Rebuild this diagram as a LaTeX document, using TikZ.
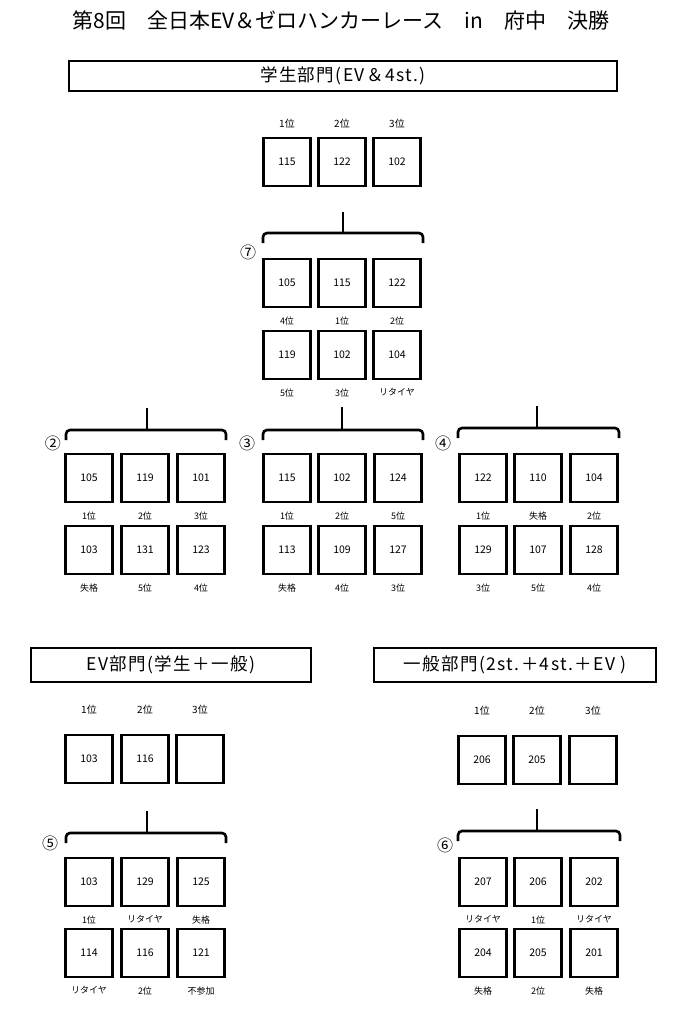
\documentclass[tikz,border=0pt]{standalone}
\usepackage{fontspec}
\setmainfont{Noto Sans CJK JP}
\usetikzlibrary{positioning,calc}

\tikzset{
  car/.style={draw, line width=2.6pt, minimum width=47pt, minimum height=48pt,
    inner sep=0pt, font=\fontsize{10.5}{10.5}\selectfont},
  rank/.style={font=\fontsize{9}{9}\selectfont, inner sep=0pt, yshift=-8pt},
  place/.style={font=\fontsize{10}{10}\selectfont, inner sep=0pt},
  head/.style={draw, line width=2.4pt, inner sep=0pt,
    font=\fontsize{17.5}{17.5}\selectfont\addfontfeatures{LetterSpace=8}},
  bracket/.style={line width=2.6pt, rounded corners=4pt},
  heat/.style={font=\fontsize{16}{16}\selectfont, inner sep=0pt},
}

\begin{document}
\begin{tikzpicture}[x=1pt, y=-1pt]

	\useasboundingbox[fill=white] (0,0) rectangle (682,1021);

	\node[font=\fontsize{21}{21}\selectfont] (title) at (341,20)
	{第8回　全日本EV＆ゼロハンカーレース　in　府中　決勝};

	% student class
	\node[head, minimum width=548pt, minimum height=30pt] (student) at (343,76) {学生部門(EV＆4st.)};

	\node[car] (t1) at (287,162) {115};
	\node[car] (t2) at (342,162) {122};
	\node[car] (t3) at (397,162) {102};
	\node[place, above=8pt of t1] (t1p) {1位};
	\node[place, above=8pt of t2] (t2p) {2位};
	\node[place, above=8pt of t3] (t3p) {3位};

	% heat 7
	\coordinate (s7) at (343,212);
	\coordinate (m7) at (343,233);
	\coordinate (l7) at (263,233);
	\coordinate (r7) at (423,233);
	\draw[line width=2.6pt] (s7) -- (m7);
	\draw[bracket] ($(l7)+(0,10)$) -- (l7) -- (r7) -- ++(0,10);
	\node[heat] (h7) at (248,252) {⑦};

	\node[car, label={[rank]below:4位}] (g7a) at (287,283) {105};
	\node[car, label={[rank]below:1位}] (g7b) at (342,283) {115};
	\node[car, label={[rank]below:2位}] (g7c) at (397,283) {122};
	\node[car, label={[rank]below:5位}] (g7d) at (287,355) {119};
	\node[car, label={[rank]below:3位}] (g7e) at (342,355) {102};
	\node[car, label={[rank]below:リタイヤ}] (g7f) at (397,355) {104};

	% heat 2
	\coordinate (s2) at (147,408);
	\coordinate (m2) at (147,430);
	\coordinate (l2) at (66,430);
	\coordinate (r2) at (226,430);
	\draw[line width=2.6pt] (s2) -- (m2);
	\draw[bracket] ($(l2)+(0,10)$) -- (l2) -- (r2) -- ++(0,10);
	\node[heat] (h2) at (53,443) {②};

	\node[car, label={[rank]below:1位}] (g2a) at (89,478) {105};
	\node[car, label={[rank]below:2位}] (g2b) at (145,478) {119};
	\node[car, label={[rank]below:3位}] (g2c) at (201,478) {101};
	\node[car, label={[rank]below:失格}] (g2d) at (89,550) {103};
	\node[car, label={[rank]below:5位}] (g2e) at (145,550) {131};
	\node[car, label={[rank]below:4位}] (g2f) at (201,550) {123};

	% heat 3
	\coordinate (s3) at (342,407);
	\coordinate (m3) at (342,430);
	\coordinate (l3) at (263,430);
	\coordinate (r3) at (423,430);
	\draw[line width=2.6pt] (s3) -- (m3);
	\draw[bracket] ($(l3)+(0,10)$) -- (l3) -- (r3) -- ++(0,10);
	\node[heat] (h3) at (247,443) {③};

	\node[car, label={[rank]below:1位}] (g3a) at (287,478) {115};
	\node[car, label={[rank]below:2位}] (g3b) at (342,478) {102};
	\node[car, label={[rank]below:5位}] (g3c) at (398,478) {124};
	\node[car, label={[rank]below:失格}] (g3d) at (287,550) {113};
	\node[car, label={[rank]below:4位}] (g3e) at (342,550) {109};
	\node[car, label={[rank]below:3位}] (g3f) at (398,550) {127};

	% heat 4
	\coordinate (s4) at (537,406);
	\coordinate (m4) at (537,428);
	\coordinate (l4) at (458,428);
	\coordinate (r4) at (619,428);
	\draw[line width=2.6pt] (s4) -- (m4);
	\draw[bracket] ($(l4)+(0,10)$) -- (l4) -- (r4) -- ++(0,10);
	\node[heat] (h4) at (443,443) {④};

	\node[car, label={[rank]below:1位}] (g4a) at (483,478) {122};
	\node[car, label={[rank]below:失格}] (g4b) at (538,478) {110};
	\node[car, label={[rank]below:2位}] (g4c) at (594,478) {104};
	\node[car, label={[rank]below:3位}] (g4d) at (483,550) {129};
	\node[car, label={[rank]below:5位}] (g4e) at (538,550) {107};
	\node[car, label={[rank]below:4位}] (g4f) at (594,550) {128};

	% EV class
	\node[head, minimum width=280pt, minimum height=34pt] (ev) at (171,665) {EV部門(学生＋一般)};

	\node[car] (e1) at (89,759) {103};
	\node[car] (e2) at (145,759) {116};
	\node[car] (e3) at (200,759) {};
	\node[place, above=19pt of e1] (e1p) {1位};
	\node[place, above=19pt of e2] (e2p) {2位};
	\node[place, above=19pt of e3] (e3p) {3位};

	% heat 5
	\coordinate (s5) at (147,811);
	\coordinate (m5) at (147,833);
	\coordinate (l5) at (66,833);
	\coordinate (r5) at (226,833);
	\draw[line width=2.6pt] (s5) -- (m5);
	\draw[bracket] ($(l5)+(0,10)$) -- (l5) -- (r5) -- ++(0,10);
	\node[heat] (h5) at (50,843) {⑤};

	\node[car, label={[rank]below:1位}] (g5a) at (89,882) {103};
	\node[car, label={[rank]below:リタイヤ}] (g5b) at (145,882) {129};
	\node[car, label={[rank]below:失格}] (g5c) at (201,882) {125};
	\node[car, label={[rank]below:リタイヤ}] (g5d) at (89,953) {114};
	\node[car, label={[rank]below:2位}] (g5e) at (145,953) {116};
	\node[car, label={[rank]below:不参加}] (g5f) at (201,953) {121};

	% general class
	\node[head, minimum width=282pt, minimum height=34pt] (open) at (515,665) {一般部門(2st.＋4st.＋EV )};

	\node[car] (o1) at (482,760) {206};
	\node[car] (o2) at (537,760) {205};
	\node[car] (o3) at (593,760) {};
	\node[place, above=19pt of o1] (o1p) {1位};
	\node[place, above=19pt of o2] (o2p) {2位};
	\node[place, above=19pt of o3] (o3p) {3位};

	% heat 6
	\coordinate (s6) at (537,809);
	\coordinate (m6) at (537,831);
	\coordinate (l6) at (458,831);
	\coordinate (r6) at (620,831);
	\draw[line width=2.6pt] (s6) -- (m6);
	\draw[bracket] ($(l6)+(0,10)$) -- (l6) -- (r6) -- ++(0,10);
	\node[heat] (h6) at (445,845) {⑥};

	\node[car, label={[rank]below:リタイヤ}] (g6a) at (483,882) {207};
	\node[car, label={[rank]below:1位}] (g6b) at (538,882) {206};
	\node[car, label={[rank]below:リタイヤ}] (g6c) at (594,882) {202};
	\node[car, label={[rank]below:失格}] (g6d) at (483,953) {204};
	\node[car, label={[rank]below:2位}] (g6e) at (538,953) {205};
	\node[car, label={[rank]below:失格}] (g6f) at (594,953) {201};

\end{tikzpicture}
\end{document}
